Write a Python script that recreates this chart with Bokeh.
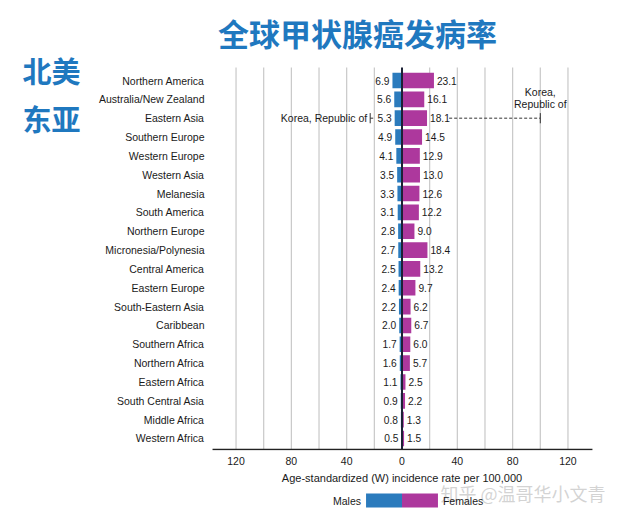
from bokeh.plotting import figure
from bokeh.models import Range1d, FixedTicker, ColumnDataSource
from bokeh.layouts import column
from bokeh.core.properties import value
from bokeh.embed import file_html
from bokeh.resources import INLINE

# ---- data ----
regions = ["Northern America", "Australia/New Zealand", "Eastern Asia", "Southern Europe",
           "Western Europe", "Western Asia", "Melanesia", "South America", "Northern Europe",
           "Micronesia/Polynesia", "Central America", "Eastern Europe", "South-Eastern Asia",
           "Caribbean", "Southern Africa", "Northern Africa", "Eastern Africa",
           "South Central Asia", "Middle Africa", "Western Africa"]
males = [6.9, 5.6, 5.3, 4.9, 4.1, 3.5, 3.3, 3.1, 2.8, 2.7, 2.5, 2.4, 2.2, 2.0, 1.7, 1.6, 1.1, 0.9, 0.8, 0.5]
females = [23.1, 16.1, 18.1, 14.5, 12.9, 13.0, 12.6, 12.2, 9.0, 18.4, 13.2, 9.7, 6.2, 6.7, 6.0, 5.7, 2.5, 2.2, 1.3, 1.5]
korea_label = "Korea, Republic of"
korea_label_wrapped = "Korea,\nRepublic of"
korea_male = 23.0
korea_female = 100.0
korea_region = "Eastern Asia"
x_ticks = [-120, -80, -40, 0, 40, 80, 120]
grid_ticks = [-120, -100, -80, -60, -40, -20, 20, 40, 60, 80, 100, 120]
axis_title = "Age-standardized (W) incidence rate per 100,000"
title_text = "全球甲状腺癌发病率"
side_labels = ["北美", "东亚"]
legend_labels = ["Males", "Females"]
watermark = "知乎 @温哥华小文青"

# ---- style / layout ----
BLUE = "#2b7bbd"
MAGENTA = "#ad389d"
TITLE_BLUE = "#1f78bf"
TXT = "#1a1a1a"
LATIN = "Liberation Sans"
CJK = "Noto Sans CJK SC"

W = 620
ZERO_PX = 401.5          # pixel of x = 0
PX_PER_X = 1.383         # pixels per unit of rate
ROW0_PX = 80.0           # pixel of first row
PX_PER_ROW = 18.842
FRAME_BOTTOM_PX = 450.0
x_lo = -ZERO_PX / PX_PER_X
x_hi = (W - ZERO_PX) / PX_PER_X
y_top = -ROW0_PX / PX_PER_ROW
y_bot = (FRAME_BOTTOM_PX - ROW0_PX) / PX_PER_ROW
axis_y = y_bot - 1.0 / PX_PER_ROW
grid_top = -0.69
axis_left, axis_right = -137.0, 137.7

idx = list(range(len(regions)))
src = ColumnDataSource(dict(
    y=idx,
    mleft=[-m for m in males],
    fright=females,
    mtxt=[f"{m:.1f}" for m in males],
    ftxt=[f"{f:.1f}" for f in females],
    name=regions,
))

p = figure(width=W, height=470, x_range=Range1d(x_lo, x_hi), y_range=Range1d(y_bot, y_top),
           output_backend="svg", toolbar_location=None, title=None, y_axis_location=None,
           min_border_left=0, min_border_right=0, min_border_top=0, min_border_bottom=20)
p.outline_line_color = None
p.grid.visible = False

# x axis (tick labels only; line drawn below as a segment)
p.xaxis.ticker = FixedTicker(ticks=x_ticks)
p.xaxis.major_label_overrides = {t: str(abs(t)) for t in x_ticks}
p.xaxis.axis_line_color = None
p.xaxis.major_tick_line_color = None
p.xaxis.minor_tick_line_color = None
p.xaxis.major_tick_out = 0
p.xaxis.major_tick_in = 0
p.xaxis.major_label_standoff = 6
p.xaxis.major_label_text_font = LATIN
p.xaxis.major_label_text_font_size = "10.5px"
p.xaxis.major_label_text_color = TXT

# grid lines
p.segment(x0=grid_ticks, y0=[grid_top] * len(grid_ticks), x1=grid_ticks, y1=[axis_y] * len(grid_ticks),
          line_color="#c8c8c8", line_width=1.2)

# bars
p.hbar(y="y", left="mleft", right=0, height=0.83, source=src, fill_color=BLUE, line_color=None)
p.hbar(y="y", left=0, right="fright", height=0.83, source=src, fill_color=MAGENTA, line_color=None)

# zero line and axis line
p.segment(x0=[0], y0=[grid_top], x1=[0], y1=[axis_y], line_color="#1c2236", line_width=2)
p.segment(x0=[axis_left], y0=[axis_y], x1=[axis_right], y1=[axis_y], line_color="#222222", line_width=1.5)

# region names
p.text(x=axis_left, y="y", text="name", source=src, x_offset=-8, text_align="right",
       text_baseline="middle", text_font=value(LATIN), text_font_size="10.5px", text_color=TXT)

# value labels
p.text(x="mleft", y="y", text="mtxt", source=src, x_offset=-3, text_align="right",
       text_baseline="middle", text_font=value(LATIN), text_font_size="10.2px", text_color=TXT)
p.text(x="fright", y="y", text="ftxt", source=src, x_offset=3, text_align="left",
       text_baseline="middle", text_font=value(LATIN), text_font_size="10.2px", text_color=TXT)

# Korea annotations
ky = regions.index(korea_region)
kf = females[ky]
km = males[ky]
p.segment(x0=[kf + 16], y0=[ky], x1=[korea_female], y1=[ky], line_color="#333333",
          line_width=1, line_dash="3 2")
p.segment(x0=[-korea_male], y0=[ky], x1=[-km - 14.3], y1=[ky], line_color="#333333",
          line_width=1, line_dash="3 2")
p.segment(x0=[korea_female, -korea_male], y0=[ky - 0.27, ky - 0.27],
          x1=[korea_female, -korea_male], y1=[ky + 0.27, ky + 0.27],
          line_color="#333333", line_width=1)
p.text(x=[-korea_male], y=[ky], text=[korea_label], x_offset=-3, text_align="right",
       text_baseline="middle", text_font=value(LATIN), text_font_size="10.5px", text_color=TXT)
p.text(x=[korea_female], y=[ky - 0.42], text=[korea_label_wrapped], text_align="center",
       text_baseline="bottom", text_font=value(LATIN), text_font_size="10.5px",
       text_color=TXT, text_line_height=1.0)

# title & side labels
p.text(x=[-32.2], y=[-2.574], text=[title_text], text_align="center", text_baseline="middle",
       text_font=value(CJK), text_font_style="bold", text_font_size="31px", text_color=TITLE_BLUE)
p.text(x=[-253.4, -253.4], y=[-0.531, 1.964], text=side_labels, text_align="center",
       text_baseline="middle", text_font=value(CJK), text_font_style="bold",
       text_font_size="29px", text_color=TITLE_BLUE)

# bottom strip: axis title + legend (shares the x scale)
leg = figure(width=W, height=40, x_range=p.x_range, y_range=Range1d(40, 0),
             output_backend="svg", toolbar_location=None, title=None,
             x_axis_location=None, y_axis_location=None,
             min_border_left=0, min_border_right=0, min_border_top=0, min_border_bottom=0)
leg.grid.visible = False
leg.outline_line_color = None
leg.text(x=[0], y=[7.5], text=[axis_title], text_align="center", text_baseline="middle",
         text_font=value(LATIN), text_font_size="11px", text_color=TXT)
leg.text(x=[27.8], y=[22], text=[watermark], text_align="left", text_baseline="middle",
         text_font=value(CJK), text_font_size="18px", text_color="#cccccc", text_alpha=0.85)
leg.quad(left=[-26, 0], right=[0, 26], top=[23, 23], bottom=[37, 37],
         fill_color=[BLUE, MAGENTA], line_color=None)
leg.text(x=[-26, 26], y=[30, 30], text=legend_labels, x_offset=[-5, 5],
         text_align=["right", "left"], text_baseline="middle",
         text_font=value(LATIN), text_font_size="10.5px", text_color=TXT)

layout = column(p, leg, spacing=0)
open("out.html", "w").write(file_html(layout, INLINE))
